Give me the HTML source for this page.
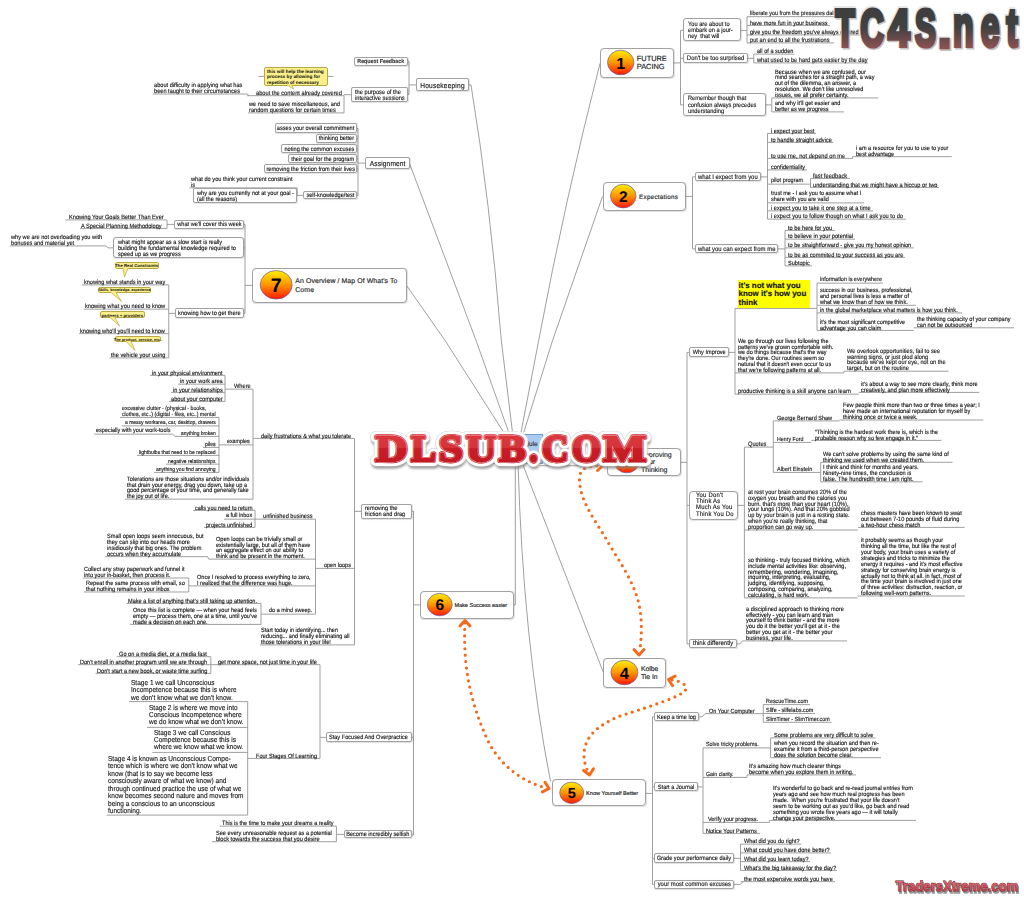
<!DOCTYPE html>
<html><head><meta charset="utf-8"><title>Mind map</title><style>
*{margin:0;padding:0;box-sizing:border-box}
html,body{width:1024px;height:898px;overflow:hidden;background:#fff}
body{position:relative;font-family:"Liberation Sans",sans-serif;text-rendering:geometricPrecision}
.t{position:absolute;white-space:pre;transform-origin:0 0;-webkit-text-stroke:0.15px currentColor}
.b{-webkit-text-stroke:0.15px currentColor}
.b{position:absolute;white-space:pre;border:0.9px solid #a2a2a2;background:#fff;display:flex;align-items:center;box-shadow:0.4px 0.7px 0.9px rgba(0,0,0,0.12)}
.cl{position:absolute;white-space:pre;background:#fcf08c;border:0.7px solid #b8a845;border-radius:2px;font-weight:bold;display:flex;align-items:center;justify-content:center;text-align:center;color:#111}
svg.ov{position:absolute;left:0;top:0}
.b span{position:relative;top:1.1px}
</style></head>
<body>
<svg class="ov" width="1024" height="898" viewBox="0 0 1024 898"><defs><linearGradient id="cg" x1="0" y1="0" x2="0" y2="1"><stop offset="0" stop-color="#ffee00"/><stop offset="0.5" stop-color="#ff9500"/><stop offset="1" stop-color="#ff1800"/></linearGradient>
<linearGradient id="tcg" x1="0" y1="0" x2="0" y2="1"><stop offset="0" stop-color="#3c3c3c"/><stop offset="0.45" stop-color="#404040"/><stop offset="1" stop-color="#8a4c4c"/></linearGradient></defs>
<g transform="translate(0,0.4)"><path d="M471,84.5 Q490,200 501.3,340 L512.5,432" fill="none" stroke="#959595" stroke-width="0.9"/>
<path d="M409.5,163 L476,340 L508.75,432" fill="none" stroke="#959595" stroke-width="0.9"/>
<path d="M406.5,285 L445,340 L503.75,432" fill="none" stroke="#959595" stroke-width="0.9"/>
<path d="M600,63 Q565,200 538.7,340 L521,432" fill="none" stroke="#959595" stroke-width="0.9"/>
<path d="M602.5,196 L552.6,340 L523.75,432" fill="none" stroke="#959595" stroke-width="0.9"/>
<polyline points="513.75,604.5 515.3,604.5 515.3,462" fill="none" stroke="#959595" stroke-width="0.9"/>
<path d="M518,462 Q523,640 550.5,781" fill="none" stroke="#959595" stroke-width="0.9"/>
<polyline points="522,462 603.5,672.4" fill="none" stroke="#959595" stroke-width="0.9"/>
<line x1="540" y1="465.3" x2="607.2" y2="465.3" stroke="#959595" stroke-width="0.9"/>
<line x1="468" y1="84.5" x2="471" y2="84.5" stroke="#959595" stroke-width="0.9"/>
<line x1="409" y1="61" x2="409" y2="94" stroke="#959595" stroke-width="0.9"/>
<line x1="407" y1="61" x2="409" y2="61" stroke="#959595" stroke-width="0.9"/>
<line x1="407" y1="94" x2="409" y2="94" stroke="#959595" stroke-width="0.9"/>
<line x1="409" y1="84.5" x2="416.5" y2="84.5" stroke="#959595" stroke-width="0.9"/>
<line x1="247" y1="95.3" x2="344" y2="95.3" stroke="#959595" stroke-width="0.9"/>
<line x1="344" y1="94.3" x2="351.5" y2="94.3" stroke="#959595" stroke-width="0.9"/>
<line x1="153" y1="93.6" x2="247" y2="93.6" stroke="#959595" stroke-width="0.9"/>
<polyline points="247,93.6 249.5,95.3" fill="none" stroke="#959595" stroke-width="0.9"/>
<line x1="248" y1="112.5" x2="344" y2="112.5" stroke="#959595" stroke-width="0.9"/>
<line x1="344" y1="95.3" x2="344" y2="112.5" stroke="#959595" stroke-width="0.9"/>
<line x1="258.5" y1="76" x2="264" y2="76" stroke="#959595" stroke-width="0.9"/>
<line x1="328" y1="76" x2="333.5" y2="76" stroke="#959595" stroke-width="0.9"/>
<line x1="358" y1="128" x2="358" y2="195" stroke="#959595" stroke-width="0.9"/>
<line x1="356.5" y1="128" x2="358" y2="128" stroke="#959595" stroke-width="0.9"/>
<line x1="356.5" y1="138" x2="358" y2="138" stroke="#959595" stroke-width="0.9"/>
<line x1="356.5" y1="148.5" x2="358" y2="148.5" stroke="#959595" stroke-width="0.9"/>
<line x1="356.5" y1="158.5" x2="358" y2="158.5" stroke="#959595" stroke-width="0.9"/>
<line x1="356.5" y1="168.5" x2="358" y2="168.5" stroke="#959595" stroke-width="0.9"/>
<line x1="356.5" y1="195" x2="358" y2="195" stroke="#959595" stroke-width="0.9"/>
<line x1="358" y1="162.7" x2="365.5" y2="162.7" stroke="#959595" stroke-width="0.9"/>
<line x1="296" y1="195" x2="303.75" y2="195" stroke="#959595" stroke-width="0.9"/>
<line x1="189.5" y1="187.5" x2="297" y2="187.5" stroke="#959595" stroke-width="0.9"/>
<line x1="297" y1="187.5" x2="297" y2="195" stroke="#959595" stroke-width="0.9"/>
<line x1="245" y1="285" x2="252.5" y2="285" stroke="#959595" stroke-width="0.9"/>
<line x1="245" y1="224" x2="245" y2="313" stroke="#959595" stroke-width="0.9"/>
<line x1="243.75" y1="224" x2="245" y2="224" stroke="#959595" stroke-width="0.9"/>
<line x1="243" y1="247.5" x2="245" y2="247.5" stroke="#959595" stroke-width="0.9"/>
<line x1="243" y1="313" x2="245" y2="313" stroke="#959595" stroke-width="0.9"/>
<line x1="65.5" y1="219.5" x2="167" y2="219.5" stroke="#959595" stroke-width="0.9"/>
<line x1="80" y1="228" x2="167" y2="228" stroke="#959595" stroke-width="0.9"/>
<line x1="167" y1="219.5" x2="167" y2="228" stroke="#959595" stroke-width="0.9"/>
<line x1="167" y1="224" x2="174.5" y2="224" stroke="#959595" stroke-width="0.9"/>
<line x1="10" y1="245.5" x2="106" y2="245.5" stroke="#959595" stroke-width="0.9"/>
<polyline points="106,245.5 108,247.5 113.75,247.5" fill="none" stroke="#959595" stroke-width="0.9"/>
<line x1="82" y1="284.5" x2="168.75" y2="284.5" stroke="#959595" stroke-width="0.9"/>
<line x1="83.75" y1="308.75" x2="168.75" y2="308.75" stroke="#959595" stroke-width="0.9"/>
<line x1="79" y1="333.25" x2="168.75" y2="333.25" stroke="#959595" stroke-width="0.9"/>
<line x1="109.5" y1="357.5" x2="168.75" y2="357.5" stroke="#959595" stroke-width="0.9"/>
<line x1="168.75" y1="284.5" x2="168.75" y2="357.5" stroke="#959595" stroke-width="0.9"/>
<line x1="168.75" y1="313" x2="175" y2="313" stroke="#959595" stroke-width="0.9"/>
<line x1="413.5" y1="604.5" x2="420.5" y2="604.5" stroke="#959595" stroke-width="0.9"/>
<line x1="413.5" y1="511" x2="413.5" y2="834.6" stroke="#959595" stroke-width="0.9"/>
<line x1="411" y1="511" x2="413.5" y2="511" stroke="#959595" stroke-width="0.9"/>
<line x1="354.5" y1="438" x2="354.5" y2="644.5" stroke="#959595" stroke-width="0.9"/>
<line x1="354.5" y1="511" x2="361" y2="511" stroke="#959595" stroke-width="0.9"/>
<line x1="253" y1="438" x2="354.5" y2="438" stroke="#959595" stroke-width="0.9"/>
<line x1="225" y1="388.75" x2="253" y2="388.75" stroke="#959595" stroke-width="0.9"/>
<line x1="253" y1="388.75" x2="253" y2="498.75" stroke="#959595" stroke-width="0.9"/>
<line x1="150" y1="375" x2="225" y2="375" stroke="#959595" stroke-width="0.9"/>
<line x1="178" y1="383.75" x2="225" y2="383.75" stroke="#959595" stroke-width="0.9"/>
<line x1="171" y1="392" x2="225" y2="392" stroke="#959595" stroke-width="0.9"/>
<line x1="169" y1="401" x2="225" y2="401" stroke="#959595" stroke-width="0.9"/>
<line x1="225" y1="375" x2="225" y2="401" stroke="#959595" stroke-width="0.9"/>
<line x1="120" y1="417" x2="219" y2="417" stroke="#959595" stroke-width="0.9"/>
<line x1="122" y1="425.5" x2="219" y2="425.5" stroke="#959595" stroke-width="0.9"/>
<line x1="94" y1="433.75" x2="172.5" y2="433.75" stroke="#959595" stroke-width="0.9"/>
<polyline points="172.5,433.75 175,436" fill="none" stroke="#959595" stroke-width="0.9"/>
<line x1="175" y1="436" x2="219" y2="436" stroke="#959595" stroke-width="0.9"/>
<line x1="203" y1="447" x2="219" y2="447" stroke="#959595" stroke-width="0.9"/>
<line x1="137" y1="455" x2="219" y2="455" stroke="#959595" stroke-width="0.9"/>
<line x1="166" y1="463.75" x2="219" y2="463.75" stroke="#959595" stroke-width="0.9"/>
<line x1="154" y1="472" x2="219" y2="472" stroke="#959595" stroke-width="0.9"/>
<line x1="219" y1="417" x2="219" y2="472" stroke="#959595" stroke-width="0.9"/>
<line x1="219" y1="444.5" x2="253" y2="444.5" stroke="#959595" stroke-width="0.9"/>
<line x1="125" y1="498.75" x2="253" y2="498.75" stroke="#959595" stroke-width="0.9"/>
<line x1="193" y1="510" x2="255" y2="510" stroke="#959595" stroke-width="0.9"/>
<line x1="224" y1="518.75" x2="255" y2="518.75" stroke="#959595" stroke-width="0.9"/>
<line x1="204" y1="527" x2="255" y2="527" stroke="#959595" stroke-width="0.9"/>
<line x1="255" y1="510" x2="255" y2="527" stroke="#959595" stroke-width="0.9"/>
<line x1="255" y1="518.75" x2="315.5" y2="518.75" stroke="#959595" stroke-width="0.9"/>
<line x1="315.5" y1="518.75" x2="315.5" y2="613.75" stroke="#959595" stroke-width="0.9"/>
<line x1="315.5" y1="568" x2="354.5" y2="568" stroke="#959595" stroke-width="0.9"/>
<line x1="105" y1="556.25" x2="207.5" y2="556.25" stroke="#959595" stroke-width="0.9"/>
<polyline points="207.5,556.25 208.75,558.75" fill="none" stroke="#959595" stroke-width="0.9"/>
<line x1="208.75" y1="558.75" x2="315.5" y2="558.75" stroke="#959595" stroke-width="0.9"/>
<line x1="82.7" y1="577.6" x2="188.75" y2="577.6" stroke="#959595" stroke-width="0.9"/>
<line x1="84" y1="591.6" x2="188.75" y2="591.6" stroke="#959595" stroke-width="0.9"/>
<line x1="188.75" y1="577.6" x2="188.75" y2="591.6" stroke="#959595" stroke-width="0.9"/>
<polyline points="188.75,585 190,585.5" fill="none" stroke="#959595" stroke-width="0.9"/>
<line x1="190" y1="585.5" x2="315.5" y2="585.5" stroke="#959595" stroke-width="0.9"/>
<line x1="126.6" y1="603" x2="261" y2="603" stroke="#959595" stroke-width="0.9"/>
<line x1="130.2" y1="624" x2="261" y2="624" stroke="#959595" stroke-width="0.9"/>
<line x1="261" y1="603" x2="261" y2="624" stroke="#959595" stroke-width="0.9"/>
<line x1="261" y1="613.75" x2="315.5" y2="613.75" stroke="#959595" stroke-width="0.9"/>
<line x1="260" y1="644.5" x2="354.5" y2="644.5" stroke="#959595" stroke-width="0.9"/>
<line x1="411.25" y1="737" x2="413.5" y2="737" stroke="#959595" stroke-width="0.9"/>
<line x1="320" y1="664.25" x2="320" y2="758" stroke="#959595" stroke-width="0.9"/>
<line x1="320" y1="737" x2="326.5" y2="737" stroke="#959595" stroke-width="0.9"/>
<line x1="210.8" y1="664.25" x2="320" y2="664.25" stroke="#959595" stroke-width="0.9"/>
<line x1="116.7" y1="656.3" x2="210.8" y2="656.3" stroke="#959595" stroke-width="0.9"/>
<line x1="78" y1="664.25" x2="210.8" y2="664.25" stroke="#959595" stroke-width="0.9"/>
<line x1="95.6" y1="673" x2="210.8" y2="673" stroke="#959595" stroke-width="0.9"/>
<line x1="210.8" y1="656.3" x2="210.8" y2="673" stroke="#959595" stroke-width="0.9"/>
<line x1="247.7" y1="758" x2="320" y2="758" stroke="#959595" stroke-width="0.9"/>
<line x1="129" y1="701.2" x2="247.7" y2="701.2" stroke="#959595" stroke-width="0.9"/>
<line x1="147" y1="727" x2="247.7" y2="727" stroke="#959595" stroke-width="0.9"/>
<line x1="152.3" y1="752" x2="247.7" y2="752" stroke="#959595" stroke-width="0.9"/>
<line x1="106.6" y1="814.7" x2="247.7" y2="814.7" stroke="#959595" stroke-width="0.9"/>
<line x1="247.7" y1="701.2" x2="247.7" y2="814.7" stroke="#959595" stroke-width="0.9"/>
<line x1="411.4" y1="834.6" x2="413.5" y2="834.6" stroke="#959595" stroke-width="0.9"/>
<line x1="219.5" y1="825.7" x2="336.4" y2="825.7" stroke="#959595" stroke-width="0.9"/>
<line x1="212" y1="841.3" x2="336.4" y2="841.3" stroke="#959595" stroke-width="0.9"/>
<line x1="336.4" y1="825.7" x2="336.4" y2="841.3" stroke="#959595" stroke-width="0.9"/>
<line x1="336.4" y1="834" x2="344" y2="834" stroke="#959595" stroke-width="0.9"/>
<line x1="673.9" y1="62.5" x2="680.5" y2="62.5" stroke="#959595" stroke-width="0.9"/>
<line x1="680.5" y1="30" x2="680.5" y2="104.5" stroke="#959595" stroke-width="0.9"/>
<line x1="680.5" y1="30" x2="683.75" y2="30" stroke="#959595" stroke-width="0.9"/>
<line x1="680.5" y1="58" x2="683.75" y2="58" stroke="#959595" stroke-width="0.9"/>
<line x1="680.5" y1="104.5" x2="683.75" y2="104.5" stroke="#959595" stroke-width="0.9"/>
<line x1="747" y1="16.25" x2="747" y2="42.5" stroke="#959595" stroke-width="0.9"/>
<line x1="740" y1="30" x2="747" y2="30" stroke="#959595" stroke-width="0.9"/>
<line x1="747" y1="16.25" x2="840" y2="16.25" stroke="#959595" stroke-width="0.9"/>
<line x1="747" y1="25" x2="830" y2="25" stroke="#959595" stroke-width="0.9"/>
<line x1="747" y1="34.5" x2="862" y2="34.5" stroke="#959595" stroke-width="0.9"/>
<line x1="747" y1="42.5" x2="834" y2="42.5" stroke="#959595" stroke-width="0.9"/>
<line x1="753.75" y1="53.75" x2="794.5" y2="53.75" stroke="#959595" stroke-width="0.9"/>
<line x1="753.75" y1="62.5" x2="868" y2="62.5" stroke="#959595" stroke-width="0.9"/>
<line x1="753.75" y1="53.75" x2="753.75" y2="62.5" stroke="#959595" stroke-width="0.9"/>
<line x1="747" y1="58" x2="753.75" y2="58" stroke="#959595" stroke-width="0.9"/>
<line x1="771.75" y1="97.5" x2="878" y2="97.5" stroke="#959595" stroke-width="0.9"/>
<line x1="771.75" y1="111.5" x2="844" y2="111.5" stroke="#959595" stroke-width="0.9"/>
<line x1="771.75" y1="97.5" x2="771.75" y2="111.5" stroke="#959595" stroke-width="0.9"/>
<line x1="765" y1="104.5" x2="771.75" y2="104.5" stroke="#959595" stroke-width="0.9"/>
<line x1="685.75" y1="196" x2="692.5" y2="196" stroke="#959595" stroke-width="0.9"/>
<line x1="692.5" y1="176.5" x2="692.5" y2="248.5" stroke="#959595" stroke-width="0.9"/>
<line x1="692.5" y1="176.5" x2="695.5" y2="176.5" stroke="#959595" stroke-width="0.9"/>
<line x1="692.5" y1="248.5" x2="695.5" y2="248.5" stroke="#959595" stroke-width="0.9"/>
<line x1="767.5" y1="133" x2="767.5" y2="218.75" stroke="#959595" stroke-width="0.9"/>
<line x1="760.5" y1="176.5" x2="767.5" y2="176.5" stroke="#959595" stroke-width="0.9"/>
<line x1="767.5" y1="133" x2="816" y2="133" stroke="#959595" stroke-width="0.9"/>
<line x1="767.5" y1="142" x2="833.5" y2="142" stroke="#959595" stroke-width="0.9"/>
<line x1="767.5" y1="158" x2="852.5" y2="158" stroke="#959595" stroke-width="0.9"/>
<line x1="852.5" y1="156.25" x2="951.75" y2="156.25" stroke="#959595" stroke-width="0.9"/>
<polyline points="852.5,158 852.5,156.25" fill="none" stroke="#959595" stroke-width="0.9"/>
<line x1="767.5" y1="169.5" x2="807" y2="169.5" stroke="#959595" stroke-width="0.9"/>
<line x1="767.5" y1="183.75" x2="810.5" y2="183.75" stroke="#959595" stroke-width="0.9"/>
<line x1="810.5" y1="178" x2="850" y2="178" stroke="#959595" stroke-width="0.9"/>
<line x1="810.5" y1="187" x2="939" y2="187" stroke="#959595" stroke-width="0.9"/>
<line x1="810.5" y1="178" x2="810.5" y2="187" stroke="#959595" stroke-width="0.9"/>
<line x1="767.5" y1="202.5" x2="864" y2="202.5" stroke="#959595" stroke-width="0.9"/>
<line x1="767.5" y1="210.5" x2="873" y2="210.5" stroke="#959595" stroke-width="0.9"/>
<line x1="767.5" y1="218.75" x2="906" y2="218.75" stroke="#959595" stroke-width="0.9"/>
<line x1="785" y1="230" x2="785" y2="265.5" stroke="#959595" stroke-width="0.9"/>
<line x1="777.5" y1="248.5" x2="785" y2="248.5" stroke="#959595" stroke-width="0.9"/>
<line x1="785" y1="230" x2="835" y2="230" stroke="#959595" stroke-width="0.9"/>
<line x1="785" y1="238.75" x2="855" y2="238.75" stroke="#959595" stroke-width="0.9"/>
<line x1="785" y1="247.5" x2="914" y2="247.5" stroke="#959595" stroke-width="0.9"/>
<line x1="785" y1="257" x2="905" y2="257" stroke="#959595" stroke-width="0.9"/>
<line x1="785" y1="265.5" x2="812" y2="265.5" stroke="#959595" stroke-width="0.9"/>
<line x1="680.3" y1="462" x2="687" y2="462" stroke="#959595" stroke-width="0.9"/>
<line x1="687" y1="352" x2="687" y2="643.75" stroke="#959595" stroke-width="0.9"/>
<line x1="687" y1="352" x2="689.5" y2="352" stroke="#959595" stroke-width="0.9"/>
<line x1="728" y1="352" x2="735" y2="352" stroke="#959595" stroke-width="0.9"/>
<line x1="735" y1="308" x2="735" y2="393.75" stroke="#959595" stroke-width="0.9"/>
<line x1="735" y1="308" x2="817" y2="308" stroke="#959595" stroke-width="0.9"/>
<line x1="817" y1="282.75" x2="817" y2="330" stroke="#959595" stroke-width="0.9"/>
<line x1="817" y1="282.75" x2="883" y2="282.75" stroke="#959595" stroke-width="0.9"/>
<line x1="817" y1="304.9" x2="916" y2="304.9" stroke="#959595" stroke-width="0.9"/>
<line x1="817" y1="312.5" x2="962" y2="312.5" stroke="#959595" stroke-width="0.9"/>
<line x1="817" y1="330" x2="913.8" y2="330" stroke="#959595" stroke-width="0.9"/>
<line x1="913.8" y1="327.4" x2="1014" y2="327.4" stroke="#959595" stroke-width="0.9"/>
<line x1="735" y1="372.5" x2="843.75" y2="372.5" stroke="#959595" stroke-width="0.9"/>
<line x1="844" y1="370.8" x2="948.5" y2="370.8" stroke="#959595" stroke-width="0.9"/>
<polyline points="843.75,372.5 844,370.8" fill="none" stroke="#959595" stroke-width="0.9"/>
<line x1="735" y1="393.75" x2="858.75" y2="393.75" stroke="#959595" stroke-width="0.9"/>
<line x1="858.75" y1="392" x2="979.4" y2="392" stroke="#959595" stroke-width="0.9"/>
<line x1="687" y1="505" x2="689.2" y2="505" stroke="#959595" stroke-width="0.9"/>
<line x1="737.7" y1="505" x2="744.4" y2="505" stroke="#959595" stroke-width="0.9"/>
<line x1="744.4" y1="446.7" x2="744.4" y2="597.5" stroke="#959595" stroke-width="0.9"/>
<line x1="744.4" y1="446.7" x2="773.3" y2="446.7" stroke="#959595" stroke-width="0.9"/>
<line x1="773.3" y1="420.5" x2="773.3" y2="472" stroke="#959595" stroke-width="0.9"/>
<line x1="773.3" y1="420.5" x2="839.5" y2="420.5" stroke="#959595" stroke-width="0.9"/>
<line x1="839.5" y1="419.6" x2="983.3" y2="419.6" stroke="#959595" stroke-width="0.9"/>
<line x1="773.3" y1="442" x2="811.25" y2="442" stroke="#959595" stroke-width="0.9"/>
<line x1="811.25" y1="440" x2="941.5" y2="440" stroke="#959595" stroke-width="0.9"/>
<line x1="773.3" y1="472" x2="820.7" y2="472" stroke="#959595" stroke-width="0.9"/>
<line x1="820.7" y1="461.9" x2="952.5" y2="461.9" stroke="#959595" stroke-width="0.9"/>
<line x1="820.7" y1="481.4" x2="922.7" y2="481.4" stroke="#959595" stroke-width="0.9"/>
<line x1="820.7" y1="461.9" x2="820.7" y2="481.4" stroke="#959595" stroke-width="0.9"/>
<line x1="744.4" y1="529.6" x2="858" y2="529.6" stroke="#959595" stroke-width="0.9"/>
<line x1="858" y1="527" x2="964.6" y2="527" stroke="#959595" stroke-width="0.9"/>
<line x1="744.4" y1="597.5" x2="857.5" y2="597.5" stroke="#959595" stroke-width="0.9"/>
<line x1="857.5" y1="595.6" x2="964.6" y2="595.6" stroke="#959595" stroke-width="0.9"/>
<line x1="687" y1="643.5" x2="689.5" y2="643.5" stroke="#959595" stroke-width="0.9"/>
<polyline points="736.25,643.5 740,643.5 742.5,640.5" fill="none" stroke="#959595" stroke-width="0.9"/>
<line x1="742.5" y1="640.5" x2="847" y2="640.5" stroke="#959595" stroke-width="0.9"/>
<line x1="645.5" y1="793" x2="652.5" y2="793" stroke="#959595" stroke-width="0.9"/>
<line x1="652.5" y1="716.5" x2="652.5" y2="884" stroke="#959595" stroke-width="0.9"/>
<line x1="652.5" y1="716.5" x2="654.5" y2="716.5" stroke="#959595" stroke-width="0.9"/>
<polyline points="698.75,716.5 702,716.5 705,713.25" fill="none" stroke="#959595" stroke-width="0.9"/>
<line x1="705" y1="713.25" x2="763.25" y2="713.25" stroke="#959595" stroke-width="0.9"/>
<line x1="763.25" y1="704.2" x2="763.25" y2="721.9" stroke="#959595" stroke-width="0.9"/>
<line x1="763.25" y1="704.2" x2="810" y2="704.2" stroke="#959595" stroke-width="0.9"/>
<line x1="763.25" y1="713.1" x2="815" y2="713.1" stroke="#959595" stroke-width="0.9"/>
<line x1="763.25" y1="721.9" x2="831.6" y2="721.9" stroke="#959595" stroke-width="0.9"/>
<line x1="652.5" y1="786.5" x2="654.5" y2="786.5" stroke="#959595" stroke-width="0.9"/>
<line x1="697" y1="786.5" x2="703" y2="786.5" stroke="#959595" stroke-width="0.9"/>
<line x1="703" y1="747.5" x2="703" y2="833" stroke="#959595" stroke-width="0.9"/>
<line x1="703" y1="747.5" x2="770.6" y2="747.5" stroke="#959595" stroke-width="0.9"/>
<line x1="770.6" y1="737.5" x2="875.6" y2="737.5" stroke="#959595" stroke-width="0.9"/>
<line x1="770.6" y1="757.3" x2="881" y2="757.3" stroke="#959595" stroke-width="0.9"/>
<line x1="770.6" y1="737.5" x2="770.6" y2="757.3" stroke="#959595" stroke-width="0.9"/>
<line x1="703" y1="777" x2="747" y2="777" stroke="#959595" stroke-width="0.9"/>
<line x1="747" y1="774.5" x2="856" y2="774.5" stroke="#959595" stroke-width="0.9"/>
<polyline points="747,777 747,774.5" fill="none" stroke="#959595" stroke-width="0.9"/>
<line x1="703" y1="822" x2="769.5" y2="822" stroke="#959595" stroke-width="0.9"/>
<line x1="769.5" y1="820" x2="916" y2="820" stroke="#959595" stroke-width="0.9"/>
<polyline points="769.5,822 769.5,820" fill="none" stroke="#959595" stroke-width="0.9"/>
<line x1="703" y1="833" x2="760" y2="833" stroke="#959595" stroke-width="0.9"/>
<line x1="652.5" y1="858" x2="654.5" y2="858" stroke="#959595" stroke-width="0.9"/>
<line x1="733.75" y1="858" x2="740.5" y2="858" stroke="#959595" stroke-width="0.9"/>
<line x1="740.5" y1="843.75" x2="740.5" y2="870" stroke="#959595" stroke-width="0.9"/>
<line x1="740.5" y1="843.75" x2="801.25" y2="843.75" stroke="#959595" stroke-width="0.9"/>
<line x1="740.5" y1="852.5" x2="831" y2="852.5" stroke="#959595" stroke-width="0.9"/>
<line x1="740.5" y1="861.25" x2="810" y2="861.25" stroke="#959595" stroke-width="0.9"/>
<line x1="740.5" y1="870" x2="837" y2="870" stroke="#959595" stroke-width="0.9"/>
<line x1="652.5" y1="884" x2="654.5" y2="884" stroke="#959595" stroke-width="0.9"/>
<polyline points="733.75,884 740.5,884 743,881.25" fill="none" stroke="#959595" stroke-width="0.9"/>
<line x1="740.5" y1="881.25" x2="835" y2="881.25" stroke="#959595" stroke-width="0.9"/></g>
</svg>
<div class="b" style="left:416.00px;top:78.25px;width:52.50px;height:12.75px;border-radius:2px;font-size:7.260px;line-height:8px;color:#1a1a1a;letter-spacing:0.22px;justify-content:center;text-align:center;"><span style="transform:scaleX(0.9091);transform-origin:50% 50%;">Housekeeping</span></div>
<div class="b" style="left:354.25px;top:56.50px;width:53.25px;height:9.00px;border-radius:2px;font-size:5.830px;line-height:5.9px;color:#3a3a3a;font-weight:bold;justify-content:center;text-align:center;"><span style="top:2.0px;transform:scaleX(0.9091);transform-origin:50% 50%;">Request Feedback</span></div>
<div class="b" style="left:351.00px;top:87.00px;width:56.50px;height:14.50px;border-radius:2px;font-size:6.270px;line-height:5.9px;color:#1a1a1a;padding-left:3px;"><span style="top:2.0px;transform:scaleX(0.9091);transform-origin:0 50%;">the purpose of the
interactive sessions</span></div>
<div class="t " style="left:255.50px;top:90.88px;font-size:6.256px;line-height:5.9px;color:#1a1a1a;transform:scaleX(0.9091);">about the content already covered</div>
<div class="t " style="left:154.00px;top:83.30px;font-size:6.202px;line-height:5.9px;color:#1a1a1a;transform:scaleX(0.9091);">about difficulty in applying what has
been taught to their circumstances</div>
<div class="t " style="left:249.00px;top:102.19px;font-size:6.223px;line-height:5.9px;color:#1a1a1a;transform:scaleX(0.9091);">we need to save miscellaneous, and
random questions for certain times</div>
<div class="cl" style="left:264px;top:67px;width:64px;height:18.5px;font-size:4.75px;line-height:5.5px;justify-content:flex-start;text-align:left;padding-left:2px;"><span style="position:relative;top:1.8px">this will help the learning
process by allowing for
repetition of necessary</span></div>
<div class="b" style="left:365.00px;top:157.00px;width:45.00px;height:11.50px;border-radius:2px;font-size:7.260px;line-height:8px;color:#1a1a1a;letter-spacing:0.15px;justify-content:center;text-align:center;"><span style="transform:scaleX(0.9091);transform-origin:50% 50%;">Assignment</span></div>
<div class="b" style="left:275.00px;top:123.25px;width:82.00px;height:9.25px;border-radius:2px;font-size:6.182px;line-height:5.9px;color:#1a1a1a;justify-content:center;text-align:center;"><span style="transform:scaleX(0.9091);transform-origin:50% 50%;">asses your overall commitment</span></div>
<div class="b" style="left:315.50px;top:133.50px;width:41.50px;height:9.00px;border-radius:2px;font-size:6.182px;line-height:5.9px;color:#1a1a1a;justify-content:center;text-align:center;"><span style="transform:scaleX(0.9091);transform-origin:50% 50%;">thinking better</span></div>
<div class="b" style="left:281.00px;top:144.00px;width:76.00px;height:9.00px;border-radius:2px;font-size:6.182px;line-height:5.9px;color:#1a1a1a;justify-content:center;text-align:center;"><span style="transform:scaleX(0.9091);transform-origin:50% 50%;">noting the common excuses</span></div>
<div class="b" style="left:288.00px;top:154.00px;width:69.00px;height:9.00px;border-radius:2px;font-size:6.182px;line-height:5.9px;color:#1a1a1a;justify-content:center;text-align:center;"><span style="transform:scaleX(0.9091);transform-origin:50% 50%;">their goal for the program</span></div>
<div class="b" style="left:264.00px;top:164.00px;width:93.00px;height:9.00px;border-radius:2px;font-size:6.182px;line-height:5.9px;color:#1a1a1a;justify-content:center;text-align:center;"><span style="transform:scaleX(0.9091);transform-origin:50% 50%;">removing the friction from their lives</span></div>
<div class="b" style="left:303.25px;top:190.50px;width:53.75px;height:8.75px;border-radius:2px;font-size:6.182px;line-height:5.9px;color:#1a1a1a;justify-content:center;text-align:center;"><span style="transform:scaleX(0.9091);transform-origin:50% 50%;">self-knowledge/test</span></div>
<div class="b" style="left:193.25px;top:188.25px;width:103.25px;height:14.75px;border-radius:2px;font-size:6.182px;line-height:5.9px;color:#1a1a1a;padding-left:3px;"><span style="transform:scaleX(0.9091);transform-origin:0 50%;">why are you currently not at your goal -
(all the reasons)</span></div>
<div class="t " style="left:190.50px;top:177.20px;font-size:6.212px;line-height:5.9px;color:#1a1a1a;transform:scaleX(0.9091);">what do you think your current constraint
is</div>
<div class="b" style="left:251.80px;top:267.90px;width:155.30px;height:35.10px;border-radius:4px;font-size:6.182px;line-height:5.9px;color:#1a1a1a;justify-content:center;text-align:center;"><span style="transform:scaleX(0.9091);transform-origin:50% 50%;"></span></div>
<div class="t" style="left:295.3px;top:278.45px;font-size:6.9px;line-height:8.2px;color:#222;letter-spacing:0.1px;">An Overview / Map Of What&#x27;s To
Come</div>
<div class="b" style="left:174.00px;top:219.50px;width:70.25px;height:9.00px;border-radius:2px;font-size:6.182px;line-height:5.9px;color:#1a1a1a;justify-content:center;text-align:center;"><span style="transform:scaleX(0.9091);transform-origin:50% 50%;">what we&#x27;ll cover this week</span></div>
<div class="b" style="left:113.25px;top:237.00px;width:130.25px;height:21.00px;border-radius:3px;font-size:6.182px;line-height:5.9px;color:#1a1a1a;padding-left:3.5px;"><span style="transform:scaleX(0.9091);transform-origin:0 50%;">what might appear as a slow start is really
building the fundamental knowledge required to
speed up as we progress</span></div>
<div class="b" style="left:174.50px;top:308.25px;width:69.00px;height:9.25px;border-radius:2px;font-size:6.182px;line-height:5.9px;color:#1a1a1a;justify-content:center;text-align:center;"><span style="transform:scaleX(0.9091);transform-origin:50% 50%;">knowing how to get there</span></div>
<div class="t " style="left:68.75px;top:215.10px;font-size:6.193px;line-height:5.9px;color:#1a1a1a;transform:scaleX(0.9091);">Knowing Your Goals Better Than Ever</div>
<div class="t " style="left:81.00px;top:223.60px;font-size:6.204px;line-height:5.9px;color:#1a1a1a;transform:scaleX(0.9091);">A Special Planning Methodology</div>
<div class="t " style="left:11.00px;top:235.19px;font-size:6.224px;line-height:5.9px;color:#1a1a1a;transform:scaleX(0.9091);">why we are not overloading you with
bonuses and material yet</div>
<div class="t " style="left:83.75px;top:280.13px;font-size:6.129px;line-height:5.9px;color:#1a1a1a;transform:scaleX(0.9091);">knowing what stands in your way</div>
<div class="t " style="left:85.00px;top:304.34px;font-size:6.224px;line-height:5.9px;color:#1a1a1a;transform:scaleX(0.9091);">knowing what you need to know</div>
<div class="t " style="left:80.00px;top:328.86px;font-size:6.179px;line-height:5.9px;color:#1a1a1a;transform:scaleX(0.9091);">knowing who&#x27;ll you&#x27;ll need to know</div>
<div class="t " style="left:110.75px;top:353.10px;font-size:6.192px;line-height:5.9px;color:#1a1a1a;transform:scaleX(0.9091);">the vehicle your using</div>
<div class="cl" style="left:114.5px;top:262px;width:44.25px;height:6.75px;font-size:4.3px;line-height:5px;"><span style="position:relative;top:0.6px">The Real Constraints</span></div>
<div class="cl" style="left:98px;top:287px;width:53px;height:6px;font-size:3.7px;line-height:5px;"><span style="position:relative;top:0.6px">Skills, knowledge, experience</span></div>
<div class="cl" style="left:100px;top:311px;width:44.5px;height:7px;font-size:4.3px;line-height:5px;"><span style="position:relative;top:0.6px">partners + providers</span></div>
<div class="cl" style="left:114.5px;top:335.75px;width:46.5px;height:6.25px;font-size:3.9px;line-height:5px;"><span style="position:relative;top:0.6px">The product, service, etc..</span></div>
<div class="b" style="left:419.60px;top:590.90px;width:94.60px;height:27.90px;border-radius:4px;font-size:6.182px;line-height:5.9px;color:#1a1a1a;justify-content:center;text-align:center;"><span style="transform:scaleX(0.9091);transform-origin:50% 50%;"></span></div>
<div class="t" style="left:454.4px;top:602.60px;font-size:5.55px;line-height:6px;color:#222;">Make Success easier</div>
<div class="b" style="left:360.50px;top:504.00px;width:51.00px;height:14.50px;border-radius:2px;font-size:6.182px;line-height:5.9px;color:#1a1a1a;padding-left:3.5px;"><span style="transform:scaleX(0.9091);transform-origin:0 50%;">removing the
friction and drag</span></div>
<div class="t " style="left:260.50px;top:433.62px;font-size:6.156px;line-height:5.9px;color:#1a1a1a;transform:scaleX(0.9091);">daily frustrations &amp; what you tolerate</div>
<div class="t " style="left:233.75px;top:384.33px;font-size:6.256px;line-height:5.9px;color:#1a1a1a;transform:scaleX(0.9091);">Where</div>
<div class="t " style="left:152.00px;top:370.62px;font-size:6.146px;line-height:5.9px;color:#1a1a1a;transform:scaleX(0.9091);">in your physical environment</div>
<div class="t " style="left:180.00px;top:379.37px;font-size:6.138px;line-height:5.9px;color:#1a1a1a;transform:scaleX(0.9091);">in your work area</div>
<div class="t " style="left:173.00px;top:387.62px;font-size:6.160px;line-height:5.9px;color:#1a1a1a;transform:scaleX(0.9091);">in your relationships</div>
<div class="t " style="left:171.00px;top:396.60px;font-size:6.213px;line-height:5.9px;color:#1a1a1a;transform:scaleX(0.9091);">about your computer</div>
<div class="t " style="left:122.00px;top:407.15px;font-size:5.760px;line-height:5.7px;color:#1a1a1a;transform:scaleX(0.9091);">excessive clutter - (physical - books,
clothes, etc..) (digital - files, etc..) mental</div>
<div class="t " style="left:124.50px;top:421.34px;font-size:5.503px;line-height:5.9px;color:#1a1a1a;transform:scaleX(0.9091);">a messy workarea, car, desktop, drawers</div>
<div class="t " style="left:95.50px;top:429.39px;font-size:6.076px;line-height:5.9px;color:#1a1a1a;transform:scaleX(0.9091);">especially with your work-tools</div>
<div class="t " style="left:181.00px;top:431.89px;font-size:5.364px;line-height:5.9px;color:#1a1a1a;transform:scaleX(0.9091);">anything broken</div>
<div class="t " style="left:205.00px;top:442.77px;font-size:5.723px;line-height:5.9px;color:#1a1a1a;transform:scaleX(0.9091);">piles</div>
<div class="t " style="left:139.00px;top:450.84px;font-size:5.519px;line-height:5.9px;color:#1a1a1a;transform:scaleX(0.9091);">lightbulbs that need to be replaced</div>
<div class="t " style="left:168.00px;top:459.62px;font-size:5.424px;line-height:5.9px;color:#1a1a1a;transform:scaleX(0.9091);">negative relationships</div>
<div class="t " style="left:156.00px;top:467.84px;font-size:5.520px;line-height:5.9px;color:#1a1a1a;transform:scaleX(0.9091);">anything you find annoying</div>
<div class="t " style="left:227.00px;top:440.23px;font-size:5.834px;line-height:5.9px;color:#1a1a1a;transform:scaleX(0.9091);">examples</div>
<div class="t " style="left:127.00px;top:476.66px;font-size:6.162px;line-height:5.9px;color:#1a1a1a;transform:scaleX(0.9091);">Tolerations are those situations and/or individuals
that drain your energy, drag you down, take up a
good percentage of your time, and generally take
the joy out of life.</div>
<div class="t " style="left:194.50px;top:505.63px;font-size:6.106px;line-height:5.9px;color:#1a1a1a;transform:scaleX(0.9091);">calls you need to return</div>
<div class="t " style="left:226.00px;top:514.41px;font-size:6.028px;line-height:5.9px;color:#1a1a1a;transform:scaleX(0.9091);">a full inbox</div>
<div class="t " style="left:205.75px;top:522.63px;font-size:6.128px;line-height:5.9px;color:#1a1a1a;transform:scaleX(0.9091);">projects unfinished</div>
<div class="t " style="left:263.00px;top:514.34px;font-size:6.224px;line-height:5.9px;color:#1a1a1a;transform:scaleX(0.9091);">unfinished business</div>
<div class="t " style="left:323.75px;top:563.65px;font-size:6.059px;line-height:5.9px;color:#1a1a1a;transform:scaleX(0.9091);">open loops</div>
<div class="t " style="left:107.00px;top:534.15px;font-size:6.193px;line-height:5.9px;color:#1a1a1a;transform:scaleX(0.9091);">Small open loops seem innocuous, but
they can slip into our heads more
insidiously that big ones. The problem
occurs when they accumulate</div>
<div class="t " style="left:216.00px;top:536.67px;font-size:6.145px;line-height:5.9px;color:#1a1a1a;transform:scaleX(0.9091);">Open loops can be trivially small or
existentially large, but all of them have
an aggregate effect on our ability to
think and be present in the moment.</div>
<div class="t " style="left:84.00px;top:567.32px;font-size:6.144px;line-height:5.9px;color:#1a1a1a;transform:scaleX(0.9091);">Collect any stray paperwork and funnel it
into your in-basket, then process it.</div>
<div class="t " style="left:86.00px;top:581.32px;font-size:6.136px;line-height:5.9px;color:#1a1a1a;transform:scaleX(0.9091);">Repeat the same process with email, so
that nothing remains in your inbox</div>
<div class="t " style="left:197.00px;top:575.23px;font-size:6.131px;line-height:5.9px;color:#1a1a1a;transform:scaleX(0.9091);">Once I resolved to process everything to zero,
I realized that the difference was huge.</div>
<div class="t " style="left:128.00px;top:598.62px;font-size:6.161px;line-height:5.9px;color:#1a1a1a;transform:scaleX(0.9091);">Make a list of anything that’s still taking up attention.</div>
<div class="t " style="left:132.50px;top:607.81px;font-size:6.166px;line-height:5.9px;color:#1a1a1a;transform:scaleX(0.9091);">Once this list is complete — when your head feels
empty — process them, one at a time, until you’ve
made a decision on each one.</div>
<div class="t " style="left:269.00px;top:609.40px;font-size:6.063px;line-height:5.9px;color:#1a1a1a;transform:scaleX(0.9091);">do a mind sweep.</div>
<div class="t " style="left:261.00px;top:628.31px;font-size:6.181px;line-height:5.9px;color:#1a1a1a;transform:scaleX(0.9091);">Start today in identifying... then
reducing... and finally eliminating all
those tolerations in your life!</div>
<div class="b" style="left:326.00px;top:732.30px;width:85.75px;height:9.60px;border-radius:2px;font-size:6.182px;line-height:5.9px;color:#1a1a1a;justify-content:center;text-align:center;"><span style="transform:scaleX(0.9091);transform-origin:50% 50%;">Stay Focused And Overpractice</span></div>
<div class="t " style="left:217.70px;top:659.87px;font-size:6.161px;line-height:5.9px;color:#1a1a1a;transform:scaleX(0.9091);">get more space, not just time in your life</div>
<div class="t " style="left:119.30px;top:651.90px;font-size:6.197px;line-height:5.9px;color:#1a1a1a;transform:scaleX(0.9091);">Go on a media diet, or a media fast</div>
<div class="t " style="left:79.80px;top:659.87px;font-size:6.147px;line-height:5.9px;color:#1a1a1a;transform:scaleX(0.9091);">Don&#x27;t enroll in another program until we are through</div>
<div class="t " style="left:96.90px;top:668.61px;font-size:6.164px;line-height:5.9px;color:#1a1a1a;transform:scaleX(0.9091);">Don&#x27;t start a new book, or waste time surfing</div>
<div class="t " style="left:255.60px;top:753.62px;font-size:6.138px;line-height:5.9px;color:#1a1a1a;transform:scaleX(0.9091);">Four Stages Of Learning</div>
<div class="t " style="left:131.20px;top:678.78px;font-size:7.202px;line-height:7.45px;color:#1a1a1a;transform:scaleX(0.9091);">Stage 1 we call Unconscious
Incompetence because this is where
we don’t know what we don’t know.</div>
<div class="t " style="left:149.10px;top:704.59px;font-size:7.168px;line-height:7.45px;color:#1a1a1a;transform:scaleX(0.9091);">Stage 2 is where we move into
Conscious Incompetence where
we do know what we don’t know.</div>
<div class="t " style="left:154.40px;top:729.59px;font-size:7.180px;line-height:7.45px;color:#1a1a1a;transform:scaleX(0.9091);">Stage 3 we call Conscious
Competence because this is
where we know what we know.</div>
<div class="t " style="left:108.30px;top:755.03px;font-size:7.205px;line-height:7.45px;color:#1a1a1a;transform:scaleX(0.9091);">Stage 4 is known as Unconscious Compe-
tence which is where we don’t know what we
know (that is to say we become less
consciously aware of what we know) and
through continued practice the use of what we
know becomes second nature and moves from
being a conscious to an unconscious
functioning.</div>
<div class="b" style="left:343.50px;top:829.80px;width:68.40px;height:8.70px;border-radius:2px;font-size:6.182px;line-height:5.9px;color:#1a1a1a;justify-content:center;text-align:center;"><span style="transform:scaleX(0.9091);transform-origin:50% 50%;">Become incredibly selfish</span></div>
<div class="t " style="left:222.00px;top:821.34px;font-size:6.091px;line-height:5.9px;color:#1a1a1a;transform:scaleX(0.9091);">This is the time to make your dreams a reality</div>
<div class="t " style="left:215.50px;top:831.31px;font-size:6.164px;line-height:5.7px;color:#1a1a1a;transform:scaleX(0.9091);">See every unreasonable request as a potential
block towards the success that you desire</div>
<div class="b" style="left:599.60px;top:47.70px;width:74.80px;height:30.00px;border-radius:4px;font-size:6.182px;line-height:5.9px;color:#1a1a1a;justify-content:center;text-align:center;"><span style="transform:scaleX(0.9091);transform-origin:50% 50%;"></span></div>
<div class="t" style="left:636.8px;top:54.70px;font-size:7.4px;line-height:8.6px;color:#222;">FUTURE
PACING</div>
<div class="b" style="left:683.25px;top:18.25px;width:57.25px;height:22.75px;border-radius:3px;font-size:6.270px;line-height:6.1px;color:#1a1a1a;padding-left:4px;"><span style="transform:scaleX(0.9091);transform-origin:0 50%;">You are about to
embark on a jour-
ney  that will</span></div>
<div class="b" style="left:683.25px;top:53.25px;width:64.25px;height:9.75px;border-radius:2px;font-size:6.490px;line-height:5.9px;color:#1a1a1a;justify-content:center;text-align:center;"><span style="transform:scaleX(0.9091);transform-origin:50% 50%;">Don&#x27;t be too surprised</span></div>
<div class="b" style="left:683.25px;top:93.25px;width:82.25px;height:22.75px;border-radius:3px;font-size:6.270px;line-height:6.2px;color:#1a1a1a;padding-left:4px;"><span style="transform:scaleX(0.9091);transform-origin:0 50%;">Remember though that
confusion always precedes
understanding</span></div>
<div class="t " style="left:750.00px;top:11.93px;font-size:5.985px;line-height:5.9px;color:#1a1a1a;transform:scaleX(0.9091);">liberate you from the pressures daily</div>
<div class="t " style="left:750.00px;top:20.62px;font-size:6.150px;line-height:5.9px;color:#1a1a1a;transform:scaleX(0.9091);">have more fun in your business</div>
<div class="t " style="left:750.00px;top:30.11px;font-size:6.178px;line-height:5.9px;color:#1a1a1a;transform:scaleX(0.9091);">give you the freedom you’ve always desired</div>
<div class="t " style="left:750.00px;top:38.08px;font-size:6.258px;line-height:5.9px;color:#1a1a1a;transform:scaleX(0.9091);">put an end to all the frustrations</div>
<div class="t " style="left:757.00px;top:49.36px;font-size:6.163px;line-height:5.9px;color:#1a1a1a;transform:scaleX(0.9091);">all of a sudden</div>
<div class="t " style="left:757.00px;top:58.08px;font-size:6.277px;line-height:5.9px;color:#1a1a1a;transform:scaleX(0.9091);">what used to be hard gets easier by the day</div>
<div class="t " style="left:775.00px;top:69.51px;font-size:6.185px;line-height:5.9px;color:#1a1a1a;transform:scaleX(0.9091);">Because when we are confused, our
mind searches for a straight path, a way
out of the dilemma, an answer, a
resolution. We don’t like unresolved
issues, we all prefer certainty.</div>
<div class="t " style="left:775.00px;top:101.22px;font-size:6.149px;line-height:5.9px;color:#1a1a1a;transform:scaleX(0.9091);">and why it&#x27;ll get easier and
better as we progress</div>
<div class="b" style="left:602.60px;top:181.50px;width:83.60px;height:29.70px;border-radius:4px;font-size:6.182px;line-height:5.9px;color:#1a1a1a;justify-content:center;text-align:center;"><span style="transform:scaleX(0.9091);transform-origin:50% 50%;"></span></div>
<div class="t" style="left:639.1px;top:193.55px;font-size:6.3px;line-height:8px;color:#222;letter-spacing:0.25px;">Expectations</div>
<div class="b" style="left:695.00px;top:172.00px;width:66.00px;height:9.00px;border-radius:2px;font-size:6.545px;line-height:5.9px;color:#1a1a1a;justify-content:center;text-align:center;"><span style="transform:scaleX(0.9091);transform-origin:50% 50%;">what I expect from you</span></div>
<div class="b" style="left:695.00px;top:244.00px;width:83.00px;height:9.00px;border-radius:2px;font-size:6.545px;line-height:5.9px;color:#1a1a1a;justify-content:center;text-align:center;"><span style="transform:scaleX(0.9091);transform-origin:50% 50%;">what you can expect from me</span></div>
<div class="t " style="left:770.50px;top:128.64px;font-size:6.098px;line-height:5.9px;color:#1a1a1a;transform:scaleX(0.9091);">i expect your best</div>
<div class="t " style="left:770.50px;top:137.61px;font-size:6.185px;line-height:5.9px;color:#1a1a1a;transform:scaleX(0.9091);">to handle straight advice</div>
<div class="t " style="left:770.50px;top:153.58px;font-size:6.274px;line-height:5.9px;color:#1a1a1a;transform:scaleX(0.9091);">to use me, not depend on me</div>
<div class="t " style="left:855.50px;top:145.97px;font-size:6.157px;line-height:5.9px;color:#1a1a1a;transform:scaleX(0.9091);">i am a resource for you to use to your
best advantage</div>
<div class="t " style="left:770.50px;top:165.10px;font-size:6.208px;line-height:5.9px;color:#1a1a1a;transform:scaleX(0.9091);">confidentiality</div>
<div class="t " style="left:770.50px;top:179.40px;font-size:6.070px;line-height:5.9px;color:#1a1a1a;transform:scaleX(0.9091);">pilot program</div>
<div class="t " style="left:813.00px;top:173.56px;font-size:6.325px;line-height:5.9px;color:#1a1a1a;transform:scaleX(0.9091);">fast feedback</div>
<div class="t " style="left:813.00px;top:182.59px;font-size:6.232px;line-height:5.9px;color:#1a1a1a;transform:scaleX(0.9091);">understanding that we might have a hiccup or two</div>
<div class="t " style="left:770.50px;top:192.25px;font-size:6.072px;line-height:5.9px;color:#1a1a1a;transform:scaleX(0.9091);">trust me - I ask you to assume what I
share with you are valid</div>
<div class="t " style="left:770.50px;top:206.09px;font-size:6.224px;line-height:5.9px;color:#1a1a1a;transform:scaleX(0.9091);">i expect you to take it one step at a time</div>
<div class="t " style="left:770.50px;top:214.33px;font-size:6.273px;line-height:5.9px;color:#1a1a1a;transform:scaleX(0.9091);">i expect you to follow though on what I ask you to do</div>
<div class="t " style="left:788.00px;top:225.60px;font-size:6.203px;line-height:5.9px;color:#1a1a1a;transform:scaleX(0.9091);">to be here for you</div>
<div class="t " style="left:788.00px;top:234.36px;font-size:6.173px;line-height:5.9px;color:#1a1a1a;transform:scaleX(0.9091);">to believe in your potential</div>
<div class="t " style="left:788.00px;top:243.12px;font-size:6.138px;line-height:5.9px;color:#1a1a1a;transform:scaleX(0.9091);">to be straightforward - give you my honest opinion</div>
<div class="t " style="left:788.00px;top:252.59px;font-size:6.243px;line-height:5.9px;color:#1a1a1a;transform:scaleX(0.9091);">to be as commited to your success as you are</div>
<div class="t " style="left:788.00px;top:261.12px;font-size:6.134px;line-height:5.9px;color:#1a1a1a;transform:scaleX(0.9091);">Subtopic</div>
<div class="b" style="left:606.70px;top:448.00px;width:74.10px;height:28.30px;border-radius:4px;font-size:6.182px;line-height:5.9px;color:#1a1a1a;justify-content:center;text-align:center;"><span style="transform:scaleX(0.9091);transform-origin:50% 50%;"></span></div>
<div class="t" style="left:641.0px;top:451.75px;font-size:7.0px;line-height:7.6px;color:#222;">Improving
Your
Thinking</div>
<div class="b" style="left:689.00px;top:347.00px;width:39.50px;height:9.75px;border-radius:2px;font-size:6.182px;line-height:5.9px;color:#1a1a1a;justify-content:center;text-align:center;"><span style="transform:scaleX(0.9091);transform-origin:50% 50%;">Why Improve</span></div>
<div class="t" style="left:738px;top:280px;width:71.5px;height:27.5px;background:#ffff00;"></div>
<div class="t" style="left:738.60px;top:281.53px;font-size:7.9px;line-height:8.85px;color:#111;font-weight:bold;">it&#x27;s not what you
know it&#x27;s how you
think</div>
<div class="t " style="left:819.50px;top:278.42px;font-size:5.995px;line-height:5.9px;color:#1a1a1a;transform:scaleX(0.9091);">information is everywhere</div>
<div class="t " style="left:819.50px;top:288.75px;font-size:6.068px;line-height:5.9px;color:#1a1a1a;transform:scaleX(0.9091);">success in our business, professional,
and personal lives is less a matter of
what we know than of how we think.</div>
<div class="t " style="left:819.50px;top:308.13px;font-size:6.111px;line-height:5.9px;color:#1a1a1a;transform:scaleX(0.9091);">in the global marketplace what matters is how you think.</div>
<div class="t " style="left:819.50px;top:319.74px;font-size:6.101px;line-height:5.9px;color:#1a1a1a;transform:scaleX(0.9091);">it&#x27;s the most significant competitive
advantage you can claim</div>
<div class="t " style="left:917.00px;top:317.12px;font-size:6.160px;line-height:5.9px;color:#1a1a1a;transform:scaleX(0.9091);">the thinking capacity of your company
can not be outsourced</div>
<div class="t " style="left:738.00px;top:338.64px;font-size:6.085px;line-height:5.9px;color:#1a1a1a;transform:scaleX(0.9091);">We go through our lives following the
patterns we&#x27;ve grown comfortable with.
we do things because that&#x27;s the way
they&#x27;re done. Our routines seem so
natural that it doesn&#x27;t even occur to us
that we&#x27;re following patterns at all.</div>
<div class="t " style="left:847.00px;top:348.68px;font-size:6.250px;line-height:5.9px;color:#1a1a1a;transform:scaleX(0.9091);">We overlook opportunities, fail to see
warning signs, or just plod along
because we&#x27;ve kept our eye, not on the
target, but on the routine</div>
<div class="t " style="left:738.00px;top:389.35px;font-size:6.192px;line-height:5.9px;color:#1a1a1a;transform:scaleX(0.9091);">productive thinking is a skill anyone can learn</div>
<div class="t " style="left:860.80px;top:381.70px;font-size:6.200px;line-height:5.9px;color:#1a1a1a;transform:scaleX(0.9091);">it&#x27;s about a way to see more clearly, think more
creatively, and plan more effectively</div>
<div class="b" style="left:688.70px;top:490.50px;width:49.50px;height:29.50px;border-radius:4px;font-size:6.490px;line-height:6.35px;color:#1a1a1a;letter-spacing:0.25px;padding-left:6px;"><span style="top:0px;transform:scaleX(0.9091);transform-origin:0 50%;">You Don&#x27;t
Think As
Much As You
Think You Do</span></div>
<div class="t " style="left:747.50px;top:442.27px;font-size:6.294px;line-height:5.9px;color:#1a1a1a;transform:scaleX(0.9091);">Quotes</div>
<div class="t " style="left:777.00px;top:416.14px;font-size:6.103px;line-height:5.9px;color:#1a1a1a;transform:scaleX(0.9091);">George Bernard Shaw</div>
<div class="t " style="left:843.00px;top:403.41px;font-size:6.167px;line-height:5.9px;color:#1a1a1a;transform:scaleX(0.9091);">Few people think more than two or three times a year; I
have made an international reputation for myself by
thinking once or twice a week.</div>
<div class="t " style="left:777.00px;top:437.73px;font-size:5.817px;line-height:5.9px;color:#1a1a1a;transform:scaleX(0.9091);">Henry Ford</div>
<div class="t " style="left:815.00px;top:429.73px;font-size:6.120px;line-height:5.9px;color:#1a1a1a;transform:scaleX(0.9091);">&quot;Thinking is the hardest work there is, which is the
probable reason why so few engage in it.&quot;</div>
<div class="t " style="left:777.00px;top:467.67px;font-size:6.005px;line-height:5.9px;color:#1a1a1a;transform:scaleX(0.9091);">Albert Einstein</div>
<div class="t " style="left:823.00px;top:451.61px;font-size:6.175px;line-height:5.9px;color:#1a1a1a;transform:scaleX(0.9091);">We can&#x27;t solve problems by using the same kind of
thinking we used when we created them.</div>
<div class="t " style="left:823.00px;top:465.20px;font-size:6.210px;line-height:5.9px;color:#1a1a1a;transform:scaleX(0.9091);">I think and think for months and years.
Ninety-nine times, the conclusion is
false. The hundredth time I am right.</div>
<div class="t " style="left:748.00px;top:489.78px;font-size:6.255px;line-height:5.9px;color:#1a1a1a;transform:scaleX(0.9091);">at rest your brain consumes 20% of the
oxygen you breath and the calories you
burn. that&#x27;s more than your heart (10%),
your lungs (10%). And that 20% gobbled
up by your brain is just in a resting state.
when you&#x27;re really thinking, that
proportion can go way up.</div>
<div class="t " style="left:860.60px;top:510.81px;font-size:6.175px;line-height:5.9px;color:#1a1a1a;transform:scaleX(0.9091);">chess masters have been known to swat
out between 7-10 pounds of fluid during
a two-hour chess match</div>
<div class="t " style="left:748.00px;top:557.71px;font-size:6.179px;line-height:5.9px;color:#1a1a1a;transform:scaleX(0.9091);">so thinking - truly focused thinking, which
include mental activities like: observing,
remembering, wondering, imagining,
inquiring, interpreting, evaluating,
judging, identifying, supposing,
composing, comparing, analyzing,
calculating, is hard work.</div>
<div class="t " style="left:860.60px;top:538.12px;font-size:6.159px;line-height:5.9px;color:#1a1a1a;transform:scaleX(0.9091);">it probably seems as though your
thinking all the time, but like the rest of
your body, your brain uses a variety of
strategies and tricks to minimize the
energy it requires - and it&#x27;s most effective
strategy for conserving brain energy is
actually not to think at all. in fact, most of
the time your brain is involved in just one
of three activities: distraction, reaction, or
following well-worn patterns.</div>
<div class="b" style="left:689.00px;top:639.00px;width:47.75px;height:8.50px;border-radius:2px;font-size:6.600px;line-height:5.9px;color:#1a1a1a;justify-content:center;text-align:center;"><span style="transform:scaleX(0.9091);transform-origin:50% 50%;">think differently</span></div>
<div class="t " style="left:746.25px;top:606.60px;font-size:6.213px;line-height:5.9px;color:#1a1a1a;transform:scaleX(0.9091);">a disciplined approach to thinking more
effectively - you can learn and train
yourself to think better - and the more
you do it the better you&#x27;ll get at it - the
better you get at it - the better your
business, your life.</div>
<div class="b" style="left:603.25px;top:657.75px;width:62.75px;height:30.25px;border-radius:4px;font-size:6.182px;line-height:5.9px;color:#1a1a1a;justify-content:center;text-align:center;"><span style="transform:scaleX(0.9091);transform-origin:50% 50%;"></span></div>
<div class="t" style="left:640.9px;top:665.88px;font-size:6.8px;line-height:7.9px;color:#222;">Kolbe
Tie In</div>
<div class="b" style="left:551.60px;top:779.20px;width:94.40px;height:27.10px;border-radius:4px;font-size:6.182px;line-height:5.9px;color:#1a1a1a;justify-content:center;text-align:center;"><span style="transform:scaleX(0.9091);transform-origin:50% 50%;"></span></div>
<div class="t" style="left:586.1px;top:790.50px;font-size:5.6px;line-height:6px;color:#222;">Know Yourself Better</div>
<div class="b" style="left:654.00px;top:712.00px;width:45.25px;height:9.00px;border-radius:2px;font-size:6.182px;line-height:5.9px;color:#1a1a1a;justify-content:center;text-align:center;"><span style="transform:scaleX(0.9091);transform-origin:50% 50%;">Keep a time log</span></div>
<div class="t " style="left:708.75px;top:708.89px;font-size:6.089px;line-height:5.9px;color:#1a1a1a;transform:scaleX(0.9091);">On Your Computer</div>
<div class="t " style="left:766.25px;top:699.88px;font-size:5.966px;line-height:5.9px;color:#1a1a1a;transform:scaleX(0.9091);">RescueTime.com</div>
<div class="t " style="left:766.25px;top:708.75px;font-size:6.060px;line-height:5.9px;color:#1a1a1a;transform:scaleX(0.9091);">Slife - slifelabs.com</div>
<div class="t " style="left:766.25px;top:717.61px;font-size:5.881px;line-height:5.9px;color:#1a1a1a;transform:scaleX(0.9091);">SlimTimer - SlimTimer.com</div>
<div class="b" style="left:654.00px;top:782.00px;width:43.50px;height:9.00px;border-radius:2px;font-size:6.182px;line-height:5.9px;color:#1a1a1a;justify-content:center;text-align:center;"><span style="transform:scaleX(0.9091);transform-origin:50% 50%;">Start a Journal</span></div>
<div class="t " style="left:706.25px;top:743.19px;font-size:5.955px;line-height:5.9px;color:#1a1a1a;transform:scaleX(0.9091);">Solve tricky problems.</div>
<div class="t " style="left:774.00px;top:733.14px;font-size:6.091px;line-height:5.9px;color:#1a1a1a;transform:scaleX(0.9091);">Some problems are very difficult to solve</div>
<div class="t " style="left:774.00px;top:741.11px;font-size:6.177px;line-height:5.9px;color:#1a1a1a;transform:scaleX(0.9091);">when you record the situation and then re-
examine it from a third-person perspective
does the solution become clear.</div>
<div class="t " style="left:706.25px;top:772.73px;font-size:5.823px;line-height:5.9px;color:#1a1a1a;transform:scaleX(0.9091);">Gain clarity.</div>
<div class="t " style="left:748.75px;top:764.21px;font-size:6.167px;line-height:5.9px;color:#1a1a1a;transform:scaleX(0.9091);">It&#x27;s amazing how much clearer things
become when you explore them in writing.</div>
<div class="t " style="left:708.00px;top:817.67px;font-size:6.015px;line-height:5.9px;color:#1a1a1a;transform:scaleX(0.9091);">Verify your progress.</div>
<div class="t " style="left:773.00px;top:786.12px;font-size:6.152px;line-height:5.9px;color:#1a1a1a;transform:scaleX(0.9091);">It’s wonderful to go back and re-read journal entries from
years ago and see how much real progress has been
made.  When you’re frustrated that your life doesn’t
seem to be working out as you’d like, go back and read
something you wrote five years ago — it will totally
change your perspective.</div>
<div class="t " style="left:706.25px;top:828.62px;font-size:6.134px;line-height:5.9px;color:#1a1a1a;transform:scaleX(0.9091);">Notice Your Patterns</div>
<div class="b" style="left:654.00px;top:853.25px;width:80.25px;height:9.25px;border-radius:2px;font-size:6.182px;line-height:5.9px;color:#1a1a1a;justify-content:center;text-align:center;"><span style="transform:scaleX(0.9091);transform-origin:50% 50%;">Grade your performance daily</span></div>
<div class="t " style="left:743.75px;top:839.38px;font-size:6.118px;line-height:5.9px;color:#1a1a1a;transform:scaleX(0.9091);">What did you do right?</div>
<div class="t " style="left:743.75px;top:848.10px;font-size:6.207px;line-height:5.9px;color:#1a1a1a;transform:scaleX(0.9091);">What could you have done better?</div>
<div class="t " style="left:743.75px;top:856.88px;font-size:6.126px;line-height:5.9px;color:#1a1a1a;transform:scaleX(0.9091);">What did you learn today?</div>
<div class="t " style="left:743.75px;top:865.60px;font-size:6.196px;line-height:5.9px;color:#1a1a1a;transform:scaleX(0.9091);">What&#x27;s the big takeaway for the day?</div>
<div class="b" style="left:654.00px;top:879.50px;width:80.25px;height:9.00px;border-radius:2px;font-size:6.490px;line-height:5.9px;color:#1a1a1a;justify-content:center;text-align:center;"><span style="transform:scaleX(0.9091);transform-origin:50% 50%;">your most common excuses</span></div>
<div class="t " style="left:743.75px;top:876.87px;font-size:6.155px;line-height:5.9px;color:#1a1a1a;transform:scaleX(0.9091);">the most expensive words you have</div>
<div style="position:absolute;left:470px;top:433.6px;width:73px;height:30px;background:#a9cdf2;border:0.8px solid #6f9ccc"></div>
<div class="t" style="left:516.4px;top:441px;font-size:6.5px;line-height:7px;color:#333">Module</div>
<svg class="ov" width="1024" height="898" viewBox="0 0 1024 898"><defs><linearGradient id="cg" x1="0" y1="0" x2="0" y2="1"><stop offset="0" stop-color="#ffee00"/><stop offset="0.5" stop-color="#ff9500"/><stop offset="1" stop-color="#ff1800"/></linearGradient>
<linearGradient id="tcg" x1="0" y1="0" x2="0" y2="1"><stop offset="0" stop-color="#3c3c3c"/><stop offset="0.45" stop-color="#404040"/><stop offset="1" stop-color="#8a4c4c"/></linearGradient></defs>
<polygon points="287,85.0 292,85.0 293.5,89" fill="#fcf08c" stroke="#b8a845" stroke-width="0.7"/>
<line x1="287.4" y1="85.0" x2="291.6" y2="85.0" stroke="#fcf08c" stroke-width="1.2"/>
<ellipse cx="276.2" cy="284.8" rx="16" ry="14.3" fill="url(#cg)" stroke="#6b5aa8" stroke-width="0.7"/>
<text x="276.2" y="292.32" font-family="Liberation Sans" font-weight="bold" font-size="19.50" text-anchor="middle" fill="#000">7</text>
<polygon points="123,268.25 128,268.25 124.5,277" fill="#fcf08c" stroke="#b8a845" stroke-width="0.7"/>
<line x1="123.4" y1="268.25" x2="127.6" y2="268.25" stroke="#fcf08c" stroke-width="1.2"/>
<polygon points="111,292.5 116,292.5 121.5,301.5" fill="#fcf08c" stroke="#b8a845" stroke-width="0.7"/>
<line x1="111.4" y1="292.5" x2="115.6" y2="292.5" stroke="#fcf08c" stroke-width="1.2"/>
<polygon points="110,317.5 115,317.5 119.5,326" fill="#fcf08c" stroke="#b8a845" stroke-width="0.7"/>
<line x1="110.4" y1="317.5" x2="114.6" y2="317.5" stroke="#fcf08c" stroke-width="1.2"/>
<polygon points="126,341.5 131,341.5 135,350.5" fill="#fcf08c" stroke="#b8a845" stroke-width="0.7"/>
<line x1="126.4" y1="341.5" x2="130.6" y2="341.5" stroke="#fcf08c" stroke-width="1.2"/>
<ellipse cx="439.75" cy="604.6" rx="12.45" ry="11.2" fill="url(#cg)" stroke="#6b5aa8" stroke-width="0.7"/>
<text x="439.75" y="610.38" font-family="Liberation Sans" font-weight="bold" font-size="15.50" text-anchor="middle" fill="#000">6</text>
<ellipse cx="620.7" cy="62.5" rx="13.2" ry="12.3" fill="url(#cg)" stroke="#6b5aa8" stroke-width="0.7"/>
<text x="620.7" y="68.56" font-family="Liberation Sans" font-weight="bold" font-size="16.00" text-anchor="middle" fill="#000">1</text>
<ellipse cx="623.25" cy="196.1" rx="12.75" ry="11.8" fill="url(#cg)" stroke="#6b5aa8" stroke-width="0.7"/>
<text x="623.25" y="202.08" font-family="Liberation Sans" font-weight="bold" font-size="15.50" text-anchor="middle" fill="#000">2</text>
<ellipse cx="626.7" cy="460.6" rx="13" ry="12.2" fill="url(#cg)" stroke="#6b5aa8" stroke-width="0.7"/>
<text x="626.7" y="466.18" font-family="Liberation Sans" font-weight="bold" font-size="15.50" text-anchor="middle" fill="#000">3</text>
<ellipse cx="624.4" cy="672.5" rx="13.5" ry="12.2" fill="url(#cg)" stroke="#6b5aa8" stroke-width="0.7"/>
<text x="624.4" y="678.84" font-family="Liberation Sans" font-weight="bold" font-size="16.50" text-anchor="middle" fill="#000">4</text>
<ellipse cx="571.7" cy="792.8" rx="12" ry="10.7" fill="url(#cg)" stroke="#6b5aa8" stroke-width="0.7"/>
<text x="571.7" y="798.22" font-family="Liberation Sans" font-weight="bold" font-size="14.50" text-anchor="middle" fill="#000">5</text>
<path d="M597,466 C588,466 580,468 579.5,478 C579,500 595,520 605,537 C615,555 630,575 637,597 C642,612 642,630 640.5,645 L639.6,651.5" fill="none" stroke="#f26b1d" stroke-width="3.2" stroke-linecap="round" stroke-dasharray="0 6.45"/>
<g transform="translate(603,465.5) rotate(0)"><polyline points="-5.5,-5 0,0 -5.5,5" fill="none" stroke="#f26b1d" stroke-width="3" stroke-linecap="round" stroke-linejoin="round"/></g>
<g transform="translate(639,655) rotate(90)"><polyline points="-5.5,-5 0,0 -5.5,5" fill="none" stroke="#f26b1d" stroke-width="3" stroke-linecap="round" stroke-linejoin="round"/></g>
<path d="M465,623 C463,660 468,700 490,745 C505,770 525,782 546,788" fill="none" stroke="#f26b1d" stroke-width="3.2" stroke-linecap="round" stroke-dasharray="0 6.45"/>
<g transform="translate(465,620.5) rotate(-90)"><polyline points="-5.5,-5 0,0 -5.5,5" fill="none" stroke="#f26b1d" stroke-width="3" stroke-linecap="round" stroke-linejoin="round"/></g>
<g transform="translate(549,788.5) rotate(15)"><polyline points="-5.5,-5 0,0 -5.5,5" fill="none" stroke="#f26b1d" stroke-width="3" stroke-linecap="round" stroke-linejoin="round"/></g>
<path d="M672,680 C681,681 688,685 685.5,690 C682,696 655,705 620,716 C596,726 584,738 584,755 C584,762 586,767 588,772" fill="none" stroke="#f26b1d" stroke-width="3.2" stroke-linecap="round" stroke-dasharray="0 6.45"/>
<g transform="translate(668.5,679.5) rotate(195)"><polyline points="-5.5,-5 0,0 -5.5,5" fill="none" stroke="#f26b1d" stroke-width="3" stroke-linecap="round" stroke-linejoin="round"/></g>
<g transform="translate(589.5,775) rotate(80)"><polyline points="-5.5,-5 0,0 -5.5,5" fill="none" stroke="#f26b1d" stroke-width="3" stroke-linecap="round" stroke-linejoin="round"/></g>
</svg>
<svg class="ov" width="1024" height="898" viewBox="0 0 1024 898">
<defs>
<filter id="blr" x="-10%" y="-30%" width="120%" height="160%"><feGaussianBlur stdDeviation="1.1"/></filter>
<filter id="blr2" x="-10%" y="-30%" width="120%" height="160%"><feGaussianBlur stdDeviation="0.6"/></filter>
<linearGradient id="redg" x1="0" y1="433" x2="0" y2="463" gradientUnits="userSpaceOnUse">
<stop offset="0" stop-color="#d9383f"/><stop offset="0.48" stop-color="#d5343b"/><stop offset="0.52" stop-color="#c81d26"/><stop offset="1" stop-color="#c21a23"/></linearGradient>
<linearGradient id="tcg2" x1="0" y1="7" x2="0" y2="48" gradientUnits="userSpaceOnUse">
<stop offset="0" stop-color="#3e3e3e"/><stop offset="0.5" stop-color="#414141"/><stop offset="1" stop-color="#8c5252"/></linearGradient>
<linearGradient id="txg" x1="0" y1="880" x2="0" y2="892" gradientUnits="userSpaceOnUse">
<stop offset="0" stop-color="#e8707a"/><stop offset="1" stop-color="#c83a48"/></linearGradient>
<g id="dlg" font-family="Liberation Serif" font-weight="bold"><text x="375.7" y="460.6" font-size="37.5" textLength="31.70" lengthAdjust="spacingAndGlyphs">D</text><text x="411.29999999999995" y="460.6" font-size="37.5" textLength="24.60" lengthAdjust="spacingAndGlyphs">L</text><text x="438.9" y="460.6" font-size="37.5" textLength="23.80" lengthAdjust="spacingAndGlyphs">S</text><text x="466.29999999999995" y="460.6" font-size="37.5" textLength="29.70" lengthAdjust="spacingAndGlyphs">U</text><text x="499.09999999999997" y="460.6" font-size="37.5" textLength="26.50" lengthAdjust="spacingAndGlyphs">B</text><text x="529.6" y="460.6" font-size="37.5" textLength="8.00" lengthAdjust="spacingAndGlyphs">.</text><text x="541.9" y="460.6" font-size="37.5" textLength="26.40" lengthAdjust="spacingAndGlyphs">C</text><text x="572.0" y="460.6" font-size="37.5" textLength="28.90" lengthAdjust="spacingAndGlyphs">O</text><text x="603.4" y="460.6" font-size="37.5" textLength="42.60" lengthAdjust="spacingAndGlyphs">M</text></g>
<g id="tcg_" font-family="Liberation Sans" font-weight="bold"><text x="835.6" y="46.0" font-size="52.2" textLength="19.20" lengthAdjust="spacingAndGlyphs">T</text><text x="860.2" y="46.0" font-size="52.2" textLength="23.60" lengthAdjust="spacingAndGlyphs">C</text><text x="888" y="46.0" font-size="52.2" textLength="21.70" lengthAdjust="spacingAndGlyphs">4</text><text x="915" y="46.0" font-size="52.2" textLength="20.90" lengthAdjust="spacingAndGlyphs">S</text><text x="953.1" y="46.0" font-size="56.5" textLength="20.70" lengthAdjust="spacingAndGlyphs">n</text><text x="980.8" y="46.0" font-size="56.5" textLength="18.80" lengthAdjust="spacingAndGlyphs">e</text><text x="1006.6" y="46.0" font-size="53.5" textLength="11.20" lengthAdjust="spacingAndGlyphs">t</text><rect x="941.6" y="39.8" width="6" height="7.5"/></g>
<g id="txg_" font-family="Liberation Sans" font-weight="bold"><text x="895.4" y="891" font-size="14.6" textLength="122.8" lengthAdjust="spacingAndGlyphs">TradersXtreme.com</text></g>
</defs>
<use href="#dlg" transform="translate(0.6,3)" fill="#808080" stroke="#808080" stroke-width="9.5" stroke-linejoin="round" filter="url(#blr)" opacity="0.75"/>
<use href="#dlg" fill="#c9c9c9" stroke="#c9c9c9" stroke-width="10.6" stroke-linejoin="round"/>
<use href="#dlg" fill="#fff" stroke="#fff" stroke-width="9.8" stroke-linejoin="round"/>
<use href="#dlg" fill="url(#redg)" stroke="url(#redg)" stroke-width="4.2" stroke-linejoin="round"/>
<use href="#dlg" fill="none" stroke="#f0b8bb" stroke-width="2.9" stroke-linejoin="round"/>
<use href="#dlg" fill="url(#redg)" stroke="url(#redg)" stroke-width="2.1" stroke-linejoin="round"/>
<use href="#tcg_" transform="translate(1.2,1.2)" fill="#aaa" stroke="#aaa" stroke-width="5.2" stroke-linejoin="miter" filter="url(#blr2)" opacity="0.7"/>
<use href="#tcg_" fill="#e4e4e4" stroke="#e4e4e4" stroke-width="5.6" stroke-linejoin="miter" transform="translate(-0.6,-0.6)"/>
<use href="#tcg_" fill="url(#tcg2)" stroke="url(#tcg2)" stroke-width="4.2" stroke-linejoin="miter"/>
<use href="#txg_" transform="translate(1,1.5)" fill="#999" stroke="#999" stroke-width="1.4" filter="url(#blr2)"/>
<use href="#txg_" fill="url(#txg)" stroke="#5a2a2e" stroke-width="0.9" paint-order="stroke"/>
</svg>
</body></html>
